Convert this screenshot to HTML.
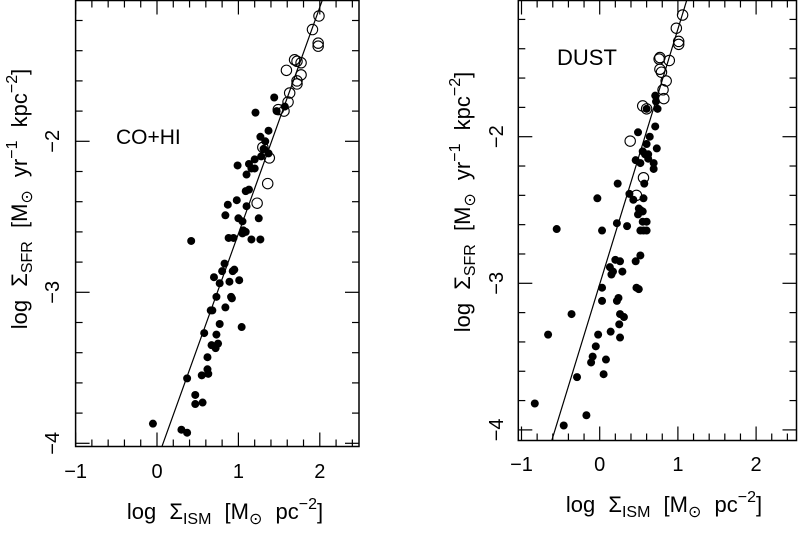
<!DOCTYPE html>
<html><head><meta charset="utf-8"><style>
html,body{margin:0;padding:0;background:#fff;width:798px;height:533px;overflow:hidden;}
svg{display:block;font-family:"Liberation Sans",Arial,sans-serif;}
</style></head><body>
<svg id="chart" width="798" height="533" viewBox="0 0 798 533"></svg>
<script>
// ---- data: left panel (CO+HI) ----
const leftOpenX = [1.99,1.91,1.98,1.98,1.69,1.72,1.77,1.59,1.77,1.72,1.72,1.63,1.61,1.56,1.49,1.30,1.38,1.36,1.23];
const leftOpenY = [-1.17,-1.26,-1.35,-1.37,-1.46,-1.47,-1.48,-1.53,-1.56,-1.60,-1.62,-1.68,-1.74,-1.80,-1.79,-2.04,-2.11,-2.28,-2.41];
const leftFilledX = [1.44,1.21,1.47,1.57,1.37,1.27,1.33,1.31,1.37,1.28,1.20,0.99,1.13,1.16,1.20,1.10,1.09,1.13,0.98,1.10,0.87,0.84,1.00,1.05,1.25,1.06,1.09,1.05,0.42,0.88,0.94,1.16,1.27,
 0.83,0.80,0.93,0.95,0.70,0.77,0.89,1.01,0.73,0.91,0.92,0.66,0.68,0.84,0.77,1.04,0.58,0.73,0.75,0.67,0.72,0.62,0.62,0.63,0.55,0.37,0.47,0.47,0.56,-0.05,0.30,0.37];
const leftFilledY = [-1.71,-1.81,-1.80,-1.77,-1.93,-1.97,-2.00,-2.05,-2.08,-2.10,-2.12,-2.16,-2.15,-2.18,-2.18,-2.22,-2.33,-2.32,-2.39,-2.43,-2.42,-2.49,-2.51,-2.53,-2.51,-2.59,-2.60,-2.61,-2.66,-2.64,-2.64,-2.65,-2.65,
 -2.81,-2.86,-2.86,-2.85,-2.90,-2.94,-2.93,-2.92,-3.03,-3.03,-3.04,-3.12,-3.12,-3.10,-3.21,-3.23,-3.27,-3.28,-3.34,-3.35,-3.37,-3.43,-3.51,-3.54,-3.55,-3.57,-3.68,-3.74,-3.73,-3.87,-3.91,-3.93];
const leftFit = [1.5, -4.112]; // slope, intercept
// ---- data: right panel (DUST) ----
const rightOpenX = [1.06,0.98,1.01,1.01,0.77,0.76,0.89,0.77,0.79,0.85,0.81,0.82,0.55,0.60,0.39,0.56,0.47];
const rightOpenY = [-1.17,-1.26,-1.35,-1.37,-1.46,-1.47,-1.48,-1.54,-1.56,-1.62,-1.68,-1.74,-1.79,-1.81,-2.03,-2.28,-2.40];
const rightFilledX = [0.71,0.72,0.60,0.74,0.71,0.49,0.64,0.60,0.73,0.55,0.58,0.62,0.46,0.62,0.52,0.69,0.69,0.57,0.23,0.38,0.43,0.56,-0.03,0.50,0.52,0.55,0.49,0.55,0.60,0.22,0.35,-0.55,0.03,0.52,0.56,0.60,
 0.52,0.46,0.20,0.26,0.13,0.17,0.29,0.15,0.47,0.50,0.03,0.24,0.22,0.03,-0.36,0.26,0.31,0.25,-0.66,-0.02,0.14,0.26,-0.05,-0.09,-0.11,0.08,0.05,-0.29,-0.83,-0.17,-0.46];
const rightFilledY = [-1.72,-1.76,-1.81,-1.81,-1.93,-1.97,-2.00,-2.05,-2.08,-2.10,-2.12,-2.12,-2.16,-2.15,-2.18,-2.18,-2.22,-2.32,-2.32,-2.39,-2.43,-2.42,-2.42,-2.49,-2.50,-2.51,-2.53,-2.58,-2.58,-2.59,-2.61,-2.63,-2.64,-2.64,-2.64,-2.64,
 -2.81,-2.85,-2.84,-2.85,-2.89,-2.92,-2.92,-2.94,-3.03,-3.04,-3.03,-3.10,-3.12,-3.12,-3.21,-3.21,-3.23,-3.28,-3.35,-3.35,-3.33,-3.37,-3.43,-3.50,-3.54,-3.52,-3.62,-3.64,-3.82,-3.90,-3.97];
const rightFit = [1.74, -3.006];
const xTickLabels = [-1, 0, 1, 2];
const yTickLabels = [-2, -3, -4];

const NS = "http://www.w3.org/2000/svg";
const svg = document.getElementById("chart");
function mk(tag, attrs, parent){ const e=document.createElementNS(NS,tag); for(const k in attrs) e.setAttribute(k,attrs[k]); (parent||svg).appendChild(e); return e; }

function panel(cfg){
  const g = mk("g",{});
  
  
  const X = v => cfg.x0px + (v) * cfg.xs;
  const Y = v => cfg.ym2px - (v + 2) * cfg.ys;
  const L=cfg.L,R=cfg.R,T=cfg.T,B=cfg.B;
  const xmin=(L-cfg.x0px)/cfg.xs, xmax=(R-cfg.x0px)/cfg.xs;
  const ymax=-2+(cfg.ym2px-T)/cfg.ys, ymin=-2+(cfg.ym2px-B)/cfg.ys;
  const clipId = cfg.name+"-clip";
  const cp = mk("clipPath",{id:clipId},g); mk("rect",{x:L,y:T,width:R-L,height:B-T},cp);
  const tg = mk("g",{stroke:"#000","stroke-width":1.2},g);
  
  
  for(let i=-10;i<=25;i++){ const v=i/5; if(v<xmin-1e-6||v>xmax+1e-6) continue;
    const major = Math.abs(v-Math.round(v))<1e-6; const len = major?14:7; const px=X(v);
    mk("line",{x1:px,x2:px,y1:B,y2:B-len},tg); mk("line",{x1:px,x2:px,y1:T,y2:T+len},tg); }
  for(let i=-25;i<=0;i++){ const v=i/5; if(v<ymin-1e-6||v>ymax+1e-6) continue;
    const major = Math.abs(v-Math.round(v))<1e-6; const len = major?14:7; const py=Y(v);
    mk("line",{x1:L,x2:L+len,y1:py,y2:py},tg); mk("line",{x1:R,x2:R-len,y1:py,y2:py},tg); }
  const fr = mk("rect",{x:L,y:T,width:R-L,height:B-T,fill:"none",stroke:"#000","stroke-width":1.5},g);
  
  
  xTickLabels.forEach(v=>{ const t=mk("text",{x:X(v),y:cfg.xlabY,"text-anchor":"middle","font-size":20},g); t.textContent=(v<0?"\u2212"+(-v):String(v));
    
     });
  yTickLabels.forEach(v=>{ const py=Y(v); const t=mk("text",{x:0,y:0,"text-anchor":"middle","font-size":20,transform:`translate(${cfg.ylabX},${py}) rotate(-90)`},g); t.textContent="\u2212"+(-v);
    
     });
  const m=cfg.fit[0], b=cfg.fit[1];
  const fl = mk("line",{x1:X(xmin),y1:Y(m*xmin+b),x2:X(xmax),y2:Y(m*xmax+b),stroke:"#000","stroke-width":1.2,"clip-path":`url(#${clipId})`},g);
  
  
  const pg = mk("g",{"clip-path":`url(#${clipId})`},g);
  cfg.fx.forEach((v,i)=>{ const c=mk("circle",{cx:X(v),cy:Y(cfg.fy[i]),r:4,fill:"#000"},pg);
    
     });
  cfg.ox.forEach((v,i)=>{ const c=mk("circle",{cx:X(v),cy:Y(cfg.oy[i]),r:5.2,fill:"none",stroke:"#000","stroke-width":1.1},pg);
    
     });
  const lab = mk("text",{x:cfg.labX,y:cfg.labY,"font-size":cfg.labSize},g); lab.textContent=cfg.label;
  
  
  const xt = mk("text",{x:cfg.xtX,y:cfg.xtY,"text-anchor":"middle","font-size":22,"word-spacing":"7px"},g);
  xt.innerHTML = 'log \u03A3<tspan font-size="16" dy="5">ISM</tspan><tspan dy="-5"> [M</tspan><tspan font-size="16" dy="5">\u2299</tspan><tspan dy="-5"> pc</tspan><tspan font-size="16" dy="-10">\u22122</tspan><tspan dy="10">]</tspan>';
  
  
  const yt = mk("text",{x:0,y:0,"text-anchor":"middle","font-size":22,"word-spacing":"7px",transform:`translate(${cfg.ytX},${cfg.ytY}) rotate(-90)`},g);
  yt.innerHTML = 'log \u03A3<tspan font-size="16" dy="5">SFR</tspan><tspan dy="-5"> [M</tspan><tspan font-size="16" dy="5">\u2299</tspan><tspan dy="-5"> yr</tspan><tspan font-size="16" dy="-10">\u22121</tspan><tspan dy="10"> kpc</tspan><tspan font-size="16" dy="-10">\u22122</tspan><tspan dy="10">]</tspan>';
  
  
}

panel({name:"co-hi-panel",L:75.6,R:359,T:0.5,B:446.5,x0px:157,xs:81.4,ym2px:141.3,ys:151,
  fit:leftFit,fx:leftFilledX,fy:leftFilledY,ox:leftOpenX,oy:leftOpenY,
  xlabY:478,ylabX:59,label:"CO+HI",labX:116,labY:144,labSize:21,
  xtX:225,xtY:519,ytX:27,ytY:199});
panel({name:"dust-panel",L:518.3,R:796.5,T:0.5,B:440.5,x0px:599.7,xs:78.2,ym2px:136.7,ys:146.6,
  fit:rightFit,fx:rightFilledX,fy:rightFilledY,ox:rightOpenX,oy:rightOpenY,
  xlabY:471,ylabX:503,label:"DUST",labX:557,labY:65,labSize:22,
  xtX:664,xtY:512,ytX:470,ytY:202});
</script>
</body></html>
